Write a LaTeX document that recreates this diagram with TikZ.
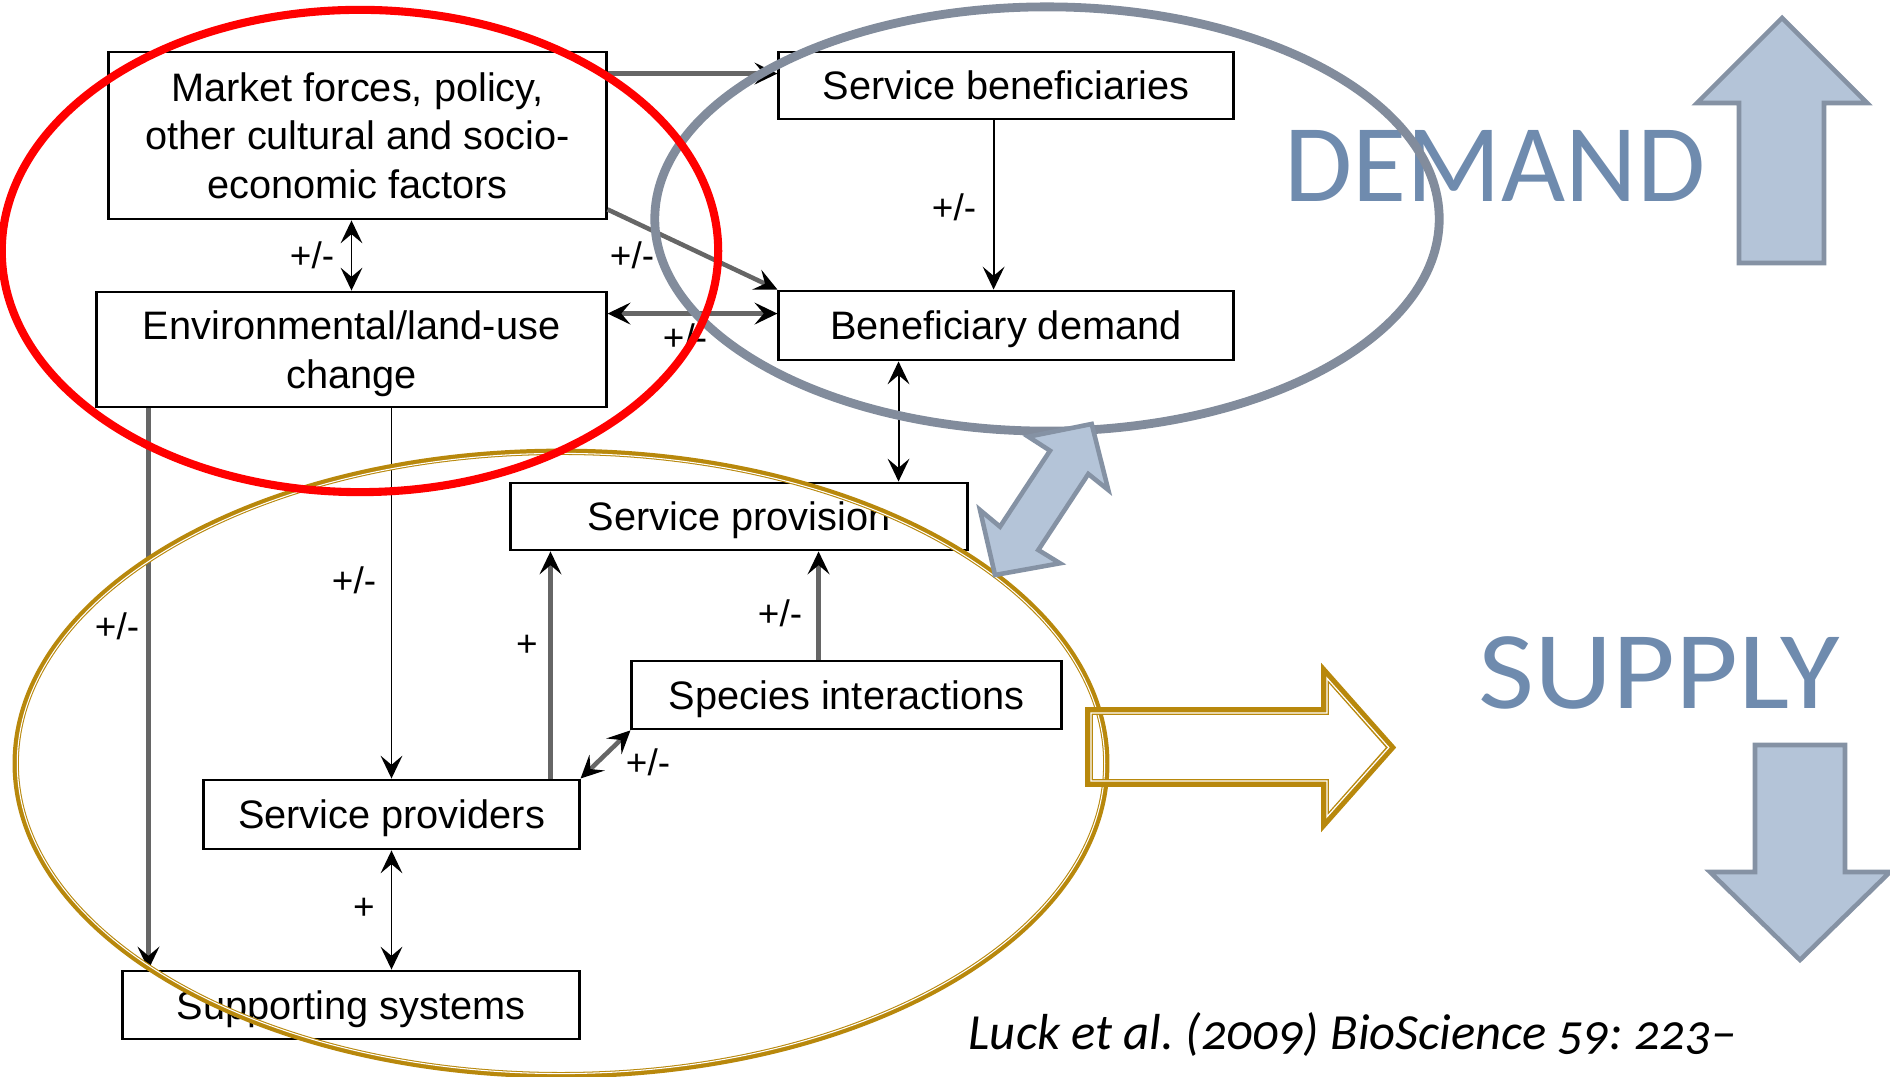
\documentclass[tikz,border=0pt]{standalone}
\usepackage{fontspec}
\setmainfont{Liberation Sans}
\newfontfamily\calib{Carlito}
\newfontfamily\citefont[Numbers=OldStyle]{Carlito}
\usetikzlibrary{arrows.meta}
\frenchspacing

\definecolor{ringred}{RGB}{255,0,0}
\definecolor{ringgray}{RGB}{130,140,156}
\definecolor{ringgold}{RGB}{184,136,12}
\definecolor{bluefill}{RGB}{180,196,216}
\definecolor{blueline}{RGB}{133,146,164}
\definecolor{titleblue}{RGB}{111,139,174}

\tikzset{
  hd/.tip={Stealth[length=6.5pt,width=6.2pt,inset=2.6pt,color=black]},
  box/.style={draw=black, line width=0.8pt, fill=white, inner sep=0pt,
    align=center, text depth=0pt, font=\fontsize{11.3}{13.9}\selectfont},
  lbl/.style={inner sep=0pt, font=\fontsize{10.5}{12}\selectfont},
  link/.style={draw=black, line width=0.55pt},
  glink/.style={draw=black!60, line width=1.3pt},
  bigarrow/.style={fill=bluefill, draw=blueline, line width=1.3pt, line join=miter},
  bigword/.style={anchor=base west, inner sep=0pt, text=titleblue,
    font=\calib\fontsize{31.5}{36}\selectfont},
}

\begin{document}
\begin{tikzpicture}[x=0.01cm, y=-0.01cm]
\useasboundingbox (0,0) rectangle (1890,1077);

% boxes
\node[box, minimum width=4.97cm, minimum height=1.67cm] (mk) at (357.5,135.5)
  {Market forces, policy,\\other cultural and socio-\\economic factors};
\node[box, minimum width=4.54cm, minimum height=0.67cm] (sb) at (1006,85.5) {Service beneficiaries};
\node[box, minimum width=5.09cm, minimum height=1.15cm] (env) at (351.5,349.5) {Environmental/land-use\\change};
\node[box, minimum width=4.54cm, minimum height=0.69cm] (bd) at (1006,325.5) {Beneficiary demand};
\node[box, minimum width=4.56cm, minimum height=0.67cm] (prov) at (739,516.5) {Service provision};
\node[box, minimum width=4.29cm, minimum height=0.68cm] (si) at (846.5,695) {Species interactions};
\node[box, minimum width=3.75cm, minimum height=0.69cm] (spr) at (391.5,814.5) {Service providers};
\node[box, minimum width=4.56cm, minimum height=0.68cm] (ss) at (351,1005) {Supporting systems};

% attachment points
\coordinate (c1) at ([yshift=-0.23cm]sb.north west);
\coordinate (c2) at ([yshift=-0.24cm]bd.north west);
\coordinate (c3) at ([xshift=2.16cm]sb.south west);
\coordinate (c4) at ([xshift=1.21cm]bd.south west);
\coordinate (c5) at ([xshift=0.53cm]env.south west);
\coordinate (c6) at ([xshift=0.41cm]prov.south west);
\coordinate (c7) at ([xshift=1.88cm]si.north west);

% connectors
\draw[glink,-{hd}] (mk.east |- c1) -- (c1);
\draw[link,{hd}-{hd}] (env.north) -- (env.north |- mk.south);
\draw[glink,-{hd}] ([yshift=0.11cm]mk.south east) -- (bd.north west);
\draw[glink,{hd}-{hd}] (env.east |- c2) -- (c2);
\draw[link,-{hd}] (c3) -- (c3 |- bd.north);
\draw[link,{hd}-{hd}] (c4) -- (c4 |- prov.north);
\draw[glink,-{hd}] (c5) -- (c5 |- ss.north);
\draw[link,-{hd}] (spr.north |- env.south) -- (spr.north);
\draw[link,{hd}-{hd}] (spr.south) -- (spr.south |- ss.north);
\draw[glink,-{hd}] (c6 |- spr.north) -- (c6);
\draw[glink,-{hd}] (c7) -- (c7 |- prov.south);
\draw[glink,{hd}-{hd}] (spr.north east) -- (si.south west);

% signs
\node[lbl] (l1) at (312,255) {+/-};
\node[lbl] (l2) at (632,255) {+/-};
\node[lbl] (l3) at (685,337) {+/-};
\node[lbl] (l4) at (954,207) {+/-};
\node[lbl] (l5) at (117,626) {+/-};
\node[lbl] (l6) at (354,580) {+/-};
\node[lbl] (l7) at (527,646) {+};
\node[lbl] (l8) at (780,613) {+/-};
\node[lbl] (l9) at (648,762) {+/-};
\node[lbl] (l10) at (364,909) {+};

% headings
\node[bigword] (dem) at (1284,202) {DEMAND};
\node[bigword] (sup) at (1478,709) {\scalebox{1.1}[1]{SUPPLY}};

% supply ring (gold double line)
\draw[ringgold, line width=1.8pt] (561,763.5) ellipse [x radius=5.45cm, y radius=3.115cm];
\draw[white, line width=0.3pt] (561,763.5) ellipse [x radius=5.434cm, y radius=3.099cm];

% hollow gold arrow
\draw[ringgold, line width=2.2pt, line join=miter]
  (1089,711) -- (1325,711) -- (1325,673) -- (1391,747.5) -- (1325,822) -- (1325,783) -- (1089,783) -- cycle;
\draw[white, line width=0.35pt, line join=miter]
  (1091,713) -- (1327,713) -- (1327,678.2) -- (1388.8,747.5) -- (1327,816.8) -- (1327,781) -- (1091,781) -- cycle;

% demand ring and driver ring
\draw[ringgray, line width=2.5pt] (1047,219) ellipse [x radius=3.92cm, y radius=2.12cm];
\draw[ringred, line width=2.3pt] (360,251) ellipse [x radius=3.58cm, y radius=2.41cm];

% block arrows
\draw[bigarrow] (1782,18) -- (1867,103) -- (1824,103) -- (1824,263) -- (1739,263) -- (1739,103) -- (1697,103) -- cycle;
\draw[bigarrow] (1800,960) -- (1710,872) -- (1755,872) -- (1755,745) -- (1845,745) -- (1845,872) -- (1890,872) -- cycle;
\draw[bigarrow] (1091.7,424) -- (1108.3,490) -- (1088.3,474) -- (1038.3,550) -- (1060,563.3)
  -- (995,575) -- (980,510) -- (1000,526.7) -- (1050,450.7) -- (1028.3,436.7) -- cycle;

% reference
\node[anchor=base west, inner sep=0pt, font=\citefont\itshape\fontsize{14.4}{17}\selectfont]
  (cite) at (968,1050) {Luck et al. (2009) BioScience 59: 223–};
\end{tikzpicture}
\end{document}
